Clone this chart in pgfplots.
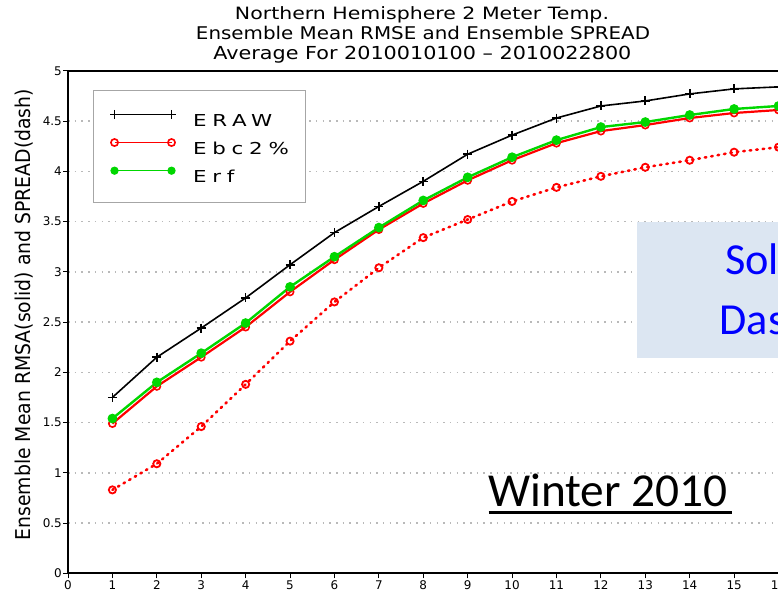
\documentclass[border=0pt]{standalone}
\usepackage{pgfplots}
\pgfplotsset{compat=1.18}
\usepackage{fontspec}
\setmainfont{Liberation Sans}
\newfontfamily\calibri{Carlito}
\newfontfamily\grads{DejaVu Sans}
\definecolor{ered}{RGB}{255,0,0}
\definecolor{egreen}{RGB}{0,215,0}
\definecolor{boxblue}{RGB}{220,230,242}
\definecolor{gridgray}{RGB}{185,185,185}
\newcommand{\lgt}[1]{\scalebox{1.3}[1]{\addfontfeatures{LetterSpace=27}#1}}
\begin{document}
\begin{tikzpicture}[x=1bp,y=1bp]
\useasboundingbox (0,0) rectangle (778,591);
\begin{scope}
\clip (0,0) rectangle (778,591);
\node[anchor=base, inner sep=0pt] at (422,571.7) {\resizebox{374bp}{12.9bp}{\grads Northern Hemisphere 2 Meter Temp.}};
\node[anchor=base, inner sep=0pt] at (423,551) {\resizebox{454bp}{13.3bp}{\grads Ensemble Mean RMSE and Ensemble SPREAD}};
\node[anchor=base, inner sep=0pt] at (422.5,531) {\resizebox{418bp}{13.3bp}{\grads Average For 2010010100 \textendash{} 2010022800}};
\begin{axis}[
  at={(68bp,17.7bp)}, anchor=south west,
  scale only axis, width=710.5bp, height=502.5bp,
  xmin=0, xmax=16, ymin=0, ymax=5,
  xtick={0,1,...,16}, ytick={0,0.5,1,1.5,2,2.5,3,3.5,4,4.5,5},
  axis line style={black, line width=1.6bp},
  ymajorgrids,
  major grid style={gridgray, line width=1.5bp, dash pattern=on 1.5bp off 5.2bp},
  tick style={black, line width=0.8bp}, major tick length=5bp, tick align=outside,
  tick pos=left,
  tick label style={font=\grads\fontsize{12}{12}\selectfont},
  /pgf/number format/assume math mode=true,
  yticklabel style={inner xsep=1bp},
  xticklabel style={inner ysep=2bp},
  ylabel={\resizebox{451bp}{15.5bp}{\grads Ensemble Mean RMSA(solid) and SPREAD(dash)}},
  ylabel style={at={(axis description cs:-0.0521,0.5146)}, anchor=base, inner sep=0pt},
  clip=false,
  legend image code/.code={\draw[#1, line width=1bp] plot coordinates {(0bp,6bp) (57bp,6bp)};},
  legend cell align=left,
  legend style={at={(axis description cs:0.0352,0.962)}, anchor=north west,
    draw=gray!70, line width=1bp, fill=white,
    inner xsep=16.5bp, inner ysep=19.5bp, row sep=12.4bp, column sep=17bp,
    nodes={inner sep=0pt, text height=12.3bp, text depth=0pt},
    font=\grads\fontsize{16.5}{16.5}\selectfont},
]
\addplot[black, line width=1.6bp, mark=+, mark size=4.5bp, mark options={line width=1.6bp}]
  coordinates {(1,1.75) (2,2.15) (3,2.44) (4,2.74) (5,3.07) (6,3.39) (7,3.65) (8,3.90) (9,4.17) (10,4.36) (11,4.53) (12,4.65) (13,4.70) (14,4.77) (15,4.82) (16,4.84)};
\addlegendentry{\lgt{ERAW}}
\addplot[ered, line width=2.2bp, mark=o, mark size=3.6bp, mark options={fill=white, line width=1.6bp}]
  coordinates {(1,1.49) (2,1.86) (3,2.15) (4,2.45) (5,2.80) (6,3.12) (7,3.42) (8,3.68) (9,3.91) (10,4.11) (11,4.28) (12,4.40) (13,4.46) (14,4.53) (15,4.58) (16,4.61)};
\addlegendentry{\lgt{Ebc2\%}}
\addplot[egreen, line width=2.4bp, mark=*, mark size=3.6bp]
  coordinates {(1,1.54) (2,1.90) (3,2.19) (4,2.49) (5,2.85) (6,3.15) (7,3.44) (8,3.71) (9,3.94) (10,4.14) (11,4.31) (12,4.44) (13,4.49) (14,4.56) (15,4.62) (16,4.65)};
\addlegendentry{\lgt{Erf}}
\addplot[ered, line width=2.6bp, dash pattern=on 1.5bp off 5bp, line cap=round, mark=o, mark size=3.6bp, mark options={solid, fill=white, line width=1.8bp}, forget plot]
  coordinates {(1,0.83) (2,1.09) (3,1.46) (4,1.88) (5,2.31) (6,2.70) (7,3.04) (8,3.34) (9,3.52) (10,3.70) (11,3.84) (12,3.95) (13,4.04) (14,4.11) (15,4.19) (16,4.24)};
\end{axis}
\fill[boxblue] (637,233.3) rectangle (780,369.3);
\node[anchor=base west, inner sep=0pt, text=blue] at (725,316) {\calibri\fontsize{44.5}{44.5}\selectfont Solid};
\node[anchor=base west, inner sep=0pt, text=blue] at (719.3,256) {\calibri\fontsize{44.5}{44.5}\selectfont Dashed};
\node[anchor=base west, inner sep=0pt] at (488,84.3) {\calibri\fontsize{47.5}{47.5}\selectfont Winter 2010};
\draw[black, line width=3bp] (488.5,78.5) -- (731.5,78.5);
\end{scope}
\end{tikzpicture}
\end{document}
